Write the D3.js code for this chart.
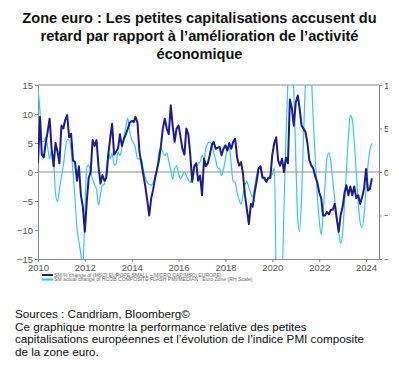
<!DOCTYPE html>
<html>
<head>
<meta charset="utf-8">
<script src="https://cdn.jsdelivr.net/npm/d3@7"></script>
<style>
  body { margin: 0; background: #fff; }
  svg { display: block; font-family: "Liberation Sans", Arial, sans-serif; }
</style>
</head>
<body>
<svg width="399" height="373"></svg>
<script>
// monthly values, Jan 2010 -> Apr 2024
const startYear = 2010
const smallCapRel = [
  1.5, 9.5, 3, 2.5, 5, 7, 9.2, 4, 1, 5, 3.5, 1.5,
  8, 7.5, 9, 9.8, 6, 6.6, 2, 1.7, -1.5, 1, -4, -6,
  -10.3, -5, -1, 0, 5.5, 4.5, 5.5, 1, -2, -0.5, -1.5, -1,
  3, 6, 8.3, 3, 3.5, 4, 6.5, 4.5, 5.7, 6.5, 7.5, 8.5,
  8.8, 8.6, 9.5, 8.5, 3.5, 1.5, -0.5, -2.5, -5, -7.5, -4.5, -3,
  -1, 0.5, 2, 4.5, 7.5, 9.2, 7.5, 6.5, 11.5, 8, 5.2, 7.5,
  8, 6, 4, 3, 7.5, 6.5, 3, -1.7, 1, 1.5, -1.5, -0.6,
  -4, 2.3, 1, 1.5, 2.9, 4.6, 5.2, 4, 4.2, 4.3, 2.9, 4,
  4.6, 3.7, 5, 4, 5.2, 5.7, 2.5, 1.1, 1.7, -0.3, -4, -6.5,
  -9, -5.5, -6, -3.5, -1.7, 0.6, 1, -1, -1, -1.7, -1, -1,
  3, 5, 6, 2, 1.1, 2.3, 0, 2.5, 1.5, 12.5, 11, 8,
  12, 13.2, 11, 8, 7.5, 6.9, 5, 2, 1.1, 0.6, -0.8, -1.7,
  -3.5, -4.5, -7.5, -7.5, -6.9, -7.3, -6.5, -6.5, -5.5, -8, -10.3, -7.5,
  -6, -3.5, -2.3, -4, -2.5, -4, -2.5, -4.5, -4, -5.5, -4.3, -2.9,
  0.5, -3.2, -2.9, -1.1
]
const pmiChange = [
  9.5, 7, 3.5, 3.5, 4, 2.8, 1.5, 2.5, 1.5, -2.5, -3.4, -2,
  -0.6, 0.8, 2.5, 3.7, 3.7, 2.5, 0, -3.1, -6.5, -8, -9.5, -11,
  -5, 0.5, 0.8, 0, -0.8, -1.5, -2, -3.8, -2.5, -1.5, -1.4, 0,
  2.3, 1.5, 2.2, 0.8, 0.9, 2.3, 1.9, 2.8, 4, 5.2, 6.2, 4.6,
  3.7, 3.3, 2.7, 1.5, 1.5, 1.5, 0.3, -0.6, -1.2, -1.4, -1.5, -1.2,
  -0.4, 0.6, 2.3, 2.7, 2.3, 1.9, 2.2, 1.2, 0.2, -0.8, 0.4, 0.7,
  -0.2, -0.8, -0.4, 0, -0.4, -0.9, -1.2, -0.4, 0, 0, 1, 1.1,
  1.9, 1.5, 2.7, 3.3, 3.4, 3.2, 2.2, 1.4, 0.5, 0.4, -0.4, 0.3,
  1.5, 2.8, 2.8, 0.9, -1.1, -1.2, -2.3, -3.2, -3.7, -2.6, -1.5, -1.1,
  -1.8, -2.5, -2.9, -1.7, -0.4, 0.5, 0.6, -0.3, -1, -0.9, -0.8, -0.4,
  -0.3, 0.5, -12, -25, -22, -13, -4, 4, 10.5, 15, 14, 9.5,
  1.5, -5.5, -6.8, -3, 4, 10.5, 14, 14.5, 11, 6, 1.5, -2.5,
  -5.5, -7.2, -5, -1.5, 1.5, 2.2, 1.2, -1, -3.2, -5.2, -7, -8.2,
  -7, -3.5, 0, 4, 6.5, 6, 3.5, 0, -3.5, -5.8, -6.4, -5,
  -2, 0.8, 2.5, 3.3
]
const leftTicks = [15, 10, 5, 0, -5, -10, -15]
const rightTicks = [10, 5, 0, -5, -10]
const yearTicks = [2010, 2012, 2014, 2016, 2018, 2020, 2022, 2024]
const legendLabels = [
  'SM % change of (MSCI EUROPE SMALL + MICRO CAP/MSCI EUROPE)',
  'SM actual change of HCOB COMPOSITE FLASH PMI/MEDIAN : Euro Zone (RH Scale)'
]
const titleLines = [
  'Zone euro : Les petites capitalisations accusent du',
  'retard par rapport à l’amélioration de l’activité',
  'économique'
]
const noteLines = [
  'Sources : Candriam, Bloomberg©',
  'Ce graphique montre la performance relative des petites',
  'capitalisations européennes et l’évolution de l’indice PMI composite',
  'de la zone euro.'
]

const svg = d3.select('svg')
const dateOf = (i) => new Date(startYear, i, 1)

const plotL = 38, plotR = 379, plotT = 85, plotB = 259
const x = d3.scaleTime()
  .domain([new Date(2010, 0, 1), new Date(2024, 6, 21)])
  .range([plotL, plotR])
const yL = d3.scaleLinear().domain([-15, 15]).range([plotB, plotT])
const yR = d3.scaleLinear().domain([-10, 10]).range([plotB, plotT])

// title
svg.append('g')
  .selectAll('text')
  .data(titleLines)
  .join('text')
  .attr('x', 199.5)
  .attr('y', (d, i) => 22.5 + i * 18)
  .attr('text-anchor', 'middle')
  .attr('font-size', 14.6)
  .attr('font-weight', 'bold')
  .attr('fill', '#111')
  .text((d) => d)

// the chart picture is cut on its right side
svg.append('clipPath').attr('id', 'imgclip')
  .append('rect').attr('x', 0).attr('y', 70).attr('width', 388).attr('height', 220)
svg.append('clipPath').attr('id', 'plotclip')
  .append('rect').attr('x', plotL).attr('y', plotT).attr('width', plotR - plotL).attr('height', plotB - plotT)

const chart = svg.append('g').attr('clip-path', 'url(#imgclip)')

// grey reference lines at top and zero
chart.append('line')
  .attr('x1', plotL).attr('x2', plotR)
  .attr('y1', yL(15)).attr('y2', yL(15))
  .attr('stroke', '#c4c4c4').attr('stroke-width', 2)
chart.append('line')
  .attr('x1', plotL).attr('x2', plotR)
  .attr('y1', yL(0)).attr('y2', yL(0))
  .attr('stroke', '#c4c4c4').attr('stroke-width', 2)

const styleAxis = (g) => {
  g.selectAll('.domain').attr('stroke', '#8a8a8a')
  g.selectAll('.tick line').attr('stroke', '#8a8a8a')
  g.selectAll('.tick text').attr('fill', '#555').attr('font-size', 9.5)
    .attr('font-family', '"Liberation Sans", Arial, sans-serif')
}

chart.append('g')
  .attr('transform', `translate(${plotL},0)`)
  .call(d3.axisLeft(yL).tickValues(leftTicks).tickSize(3).tickSizeOuter(0).tickPadding(2))
  .call(styleAxis)

chart.append('g')
  .attr('transform', `translate(${plotR},0)`)
  .call(d3.axisRight(yR).tickValues(rightTicks).tickSize(3).tickSizeOuter(0).tickPadding(2))
  .call(styleAxis)

chart.append('g')
  .attr('transform', `translate(0,${plotB})`)
  .call(d3.axisBottom(x)
    .tickValues(yearTicks.map((yr) => new Date(yr, 0, 1)))
    .tickFormat(d3.timeFormat('%Y'))
    .tickSize(3).tickSizeOuter(0).tickPadding(2))
  .call(styleAxis)

const plot = chart.append('g').attr('clip-path', 'url(#plotclip)')

const line = (yScale) => d3.line()
  .x((d, i) => x(dateOf(i)))
  .y((d) => yScale(d))

plot.append('path')
  .datum(pmiChange)
  .attr('fill', 'none')
  .attr('stroke', '#35c6f4')
  .attr('stroke-width', 1.2)
  .attr('stroke-linejoin', 'round')
  .attr('d', line(yR).curve(d3.curveMonotoneX))

plot.append('path')
  .datum(smallCapRel)
  .attr('fill', 'none')
  .attr('stroke', '#1c1c8c')
  .attr('stroke-width', 2)
  .attr('stroke-linejoin', 'round')
  .attr('d', line(yL))

// legend
const legend = chart.append('g')
  .selectAll('g')
  .data(legendLabels)
  .join('g')
  .attr('transform', (d, i) => `translate(42,${275 + i * 4.5})`)
legend.append('line')
  .attr('x1', 0).attr('x2', 11)
  .attr('stroke', (d, i) => (i === 0 ? '#1c1c8c' : '#35c6f4'))
  .attr('stroke-width', 2)
legend.append('text')
  .attr('x', 12).attr('y', 1.7)
  .attr('font-size', 5.1)
  .attr('fill', '#666')
  .text((d) => d)

// source note
svg.append('g')
  .selectAll('text')
  .data(noteLines)
  .join('text')
  .attr('x', 15)
  .attr('y', (d, i) => 318 + i * 12.7)
  .attr('font-size', 11.7)
  .attr('fill', '#111')
  .text((d) => d)
</script>
</body>
</html>
